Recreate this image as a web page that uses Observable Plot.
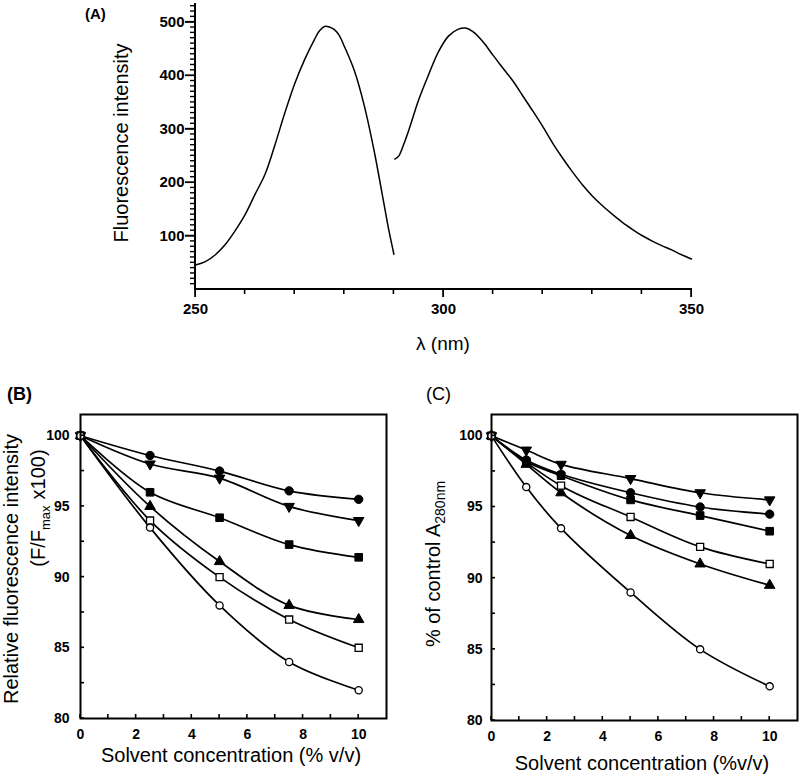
<!DOCTYPE html>
<html><head><meta charset="utf-8">
<script src="https://cdn.jsdelivr.net/npm/d3@7"></script>
<script src="https://cdn.jsdelivr.net/npm/@observablehq/plot@0.6"></script>
<style>
body{margin:0;background:#fff;}
#fig{width:800px;height:776px;background:#fff;}
#row{display:flex;width:800px;}
</style></head><body><div id="fig"><div id="top"></div><div id="row"></div></div>
<script>
// ---------- Panel A: spectra ----------
const exWavelength = [250, 252, 254, 256, 258, 260, 262, 264, 266, 268, 270, 272, 274, 275, 276, 277, 278, 279, 280, 282, 284, 286, 288, 289, 290];
const exIntensity  = [46, 52, 65, 84, 110, 140, 178, 215, 270, 330, 385, 430, 468, 484, 492, 491, 486, 475, 455, 410, 345, 260, 160, 110, 66];
const emWavelength = [290.2, 291, 292, 293, 295, 297, 299, 301, 303, 304.5, 306, 308, 310, 312, 314, 316, 318, 320, 322, 324, 326, 328, 330, 332, 334, 336, 338, 340, 342, 344, 346, 348, 350];
const emIntensity  = [244, 250, 272, 298, 355, 402, 445, 474, 487, 489, 482, 463, 438, 414, 390, 362, 334, 305, 274, 246, 220, 196, 175, 157, 141, 126, 113, 101, 91, 82, 74, 65, 57];
const aXTickLabels = [250, 300, 350];
const aXMinorTicks = [260, 270, 280, 290, 310, 320, 330, 340];
const aYTickLabels = [100, 200, 300, 400, 500];

// ---------- Panel B: relative fluorescence ----------
const bConc = [0, 2.5, 5, 7.5, 10];
const bFilledCircle   = [100, 98.6, 97.5, 96.1, 95.5];
const bFilledDown     = [100, 98.0, 97.0, 95.0, 94.0];
const bFilledSquare   = [100, 96.0, 94.2, 92.3, 91.4];
const bFilledUp       = [100, 95.0, 91.1, 88.0, 87.0];
const bOpenSquare     = [100, 94.0, 90.0, 87.0, 85.0];
const bOpenCircle     = [100, 93.5, 88.0, 84.0, 82.0];

// ---------- Panel C: % of control A280 ----------
const cConc = [0, 1.25, 2.5, 5, 7.5, 10];
const cFilledDown     = [100, 99.0, 98.0, 97.0, 96.0, 95.5];
const cFilledCircle   = [100, 98.3, 97.3, 96.0, 95.0, 94.5];
const cFilledSquare   = [100, 98.2, 97.2, 95.5, 94.4, 93.3];
const cFilledUp       = [100, 98.0, 96.0, 93.0, 91.0, 89.5];
const cOpenSquareConc = [0, 2.5, 5, 7.5, 10];
const cOpenSquare     = [100, 96.5, 94.3, 92.2, 91.0];
const cOpenCircle     = [100, 96.4, 93.5, 89.0, 85.0, 82.4];

const bcXTickLabels = [0, 2, 4, 6, 8, 10];
const bcYTickLabels = [80, 85, 90, 95, 100];

// marker styles
const markerStyle = {
  filledCircle: {symbol: "circle",   fill: "black", rotate: 0,   r: 4.2},
  filledDown:   {symbol: "triangle", fill: "black", rotate: 180, r: 3.9},
  filledSquare: {symbol: "square",   fill: "black", rotate: 0,   r: 4.3},
  filledUp:     {symbol: "triangle", fill: "black", rotate: 0,   r: 3.9},
  openSquare:   {symbol: "square",   fill: "white", rotate: 0,   r: 4.0},
  openCircle:   {symbol: "circle",   fill: "white", rotate: 0,   r: 3.6}
};

const rows = (series, xs, ys) => xs.map((x, i) => ({series, x, y: ys[i]}));
const bSeries = [
  ["filledCircle", bConc, bFilledCircle], ["filledDown", bConc, bFilledDown],
  ["filledSquare", bConc, bFilledSquare], ["filledUp", bConc, bFilledUp],
  ["openSquare", bConc, bOpenSquare], ["openCircle", bConc, bOpenCircle]
];
const cSeries = [
  ["filledDown", cConc, cFilledDown], ["filledCircle", cConc, cFilledCircle],
  ["filledSquare", cConc, cFilledSquare], ["filledUp", cConc, cFilledUp],
  ["openSquare", cOpenSquareConc, cOpenSquare], ["openCircle", cConc, cOpenCircle]
];

const font = "'Liberation Sans', Arial, Helvetica, sans-serif";

// ---- Panel A ----
const exRows = rows("ex", exWavelength, exIntensity);
const emRows = rows("em", emWavelength, emIntensity);
const plotA = Plot.plot({
  width: 800, height: 360,
  marginLeft: 195, marginRight: 109, marginTop: 3, marginBottom: 71,
  x: {domain: [250, 350]}, y: {domain: [0, 535]},
  style: {fontFamily: font, fontSize: "15px", fontWeight: "bold", color: "black", background: "white", overflow: "visible"},
  marks: [
    Plot.axisX({ticks: aXTickLabels, tickSize: 8, tickPadding: 6, label: null}),
    Plot.axisY({ticks: aYTickLabels, tickSize: 10, tickPadding: 1, label: null}),
    Plot.line(exRows, {x: "x", y: "y", curve: "catmull-rom", stroke: "black", strokeWidth: 1.5}),
    Plot.line(emRows, {x: "x", y: "y", curve: "catmull-rom", stroke: "black", strokeWidth: 1.5})
  ]
});
document.getElementById("top").appendChild(plotA);

function panel(seriesList, opts) {
  const data = seriesList.flatMap(([s, xs, ys]) => rows(s, xs, ys));
  const dots = seriesList.map(([s]) => {
    const st = markerStyle[s];
    return Plot.dot(data.filter(d => d.series === s), {
      x: "x", y: "y", symbol: st.symbol, fill: st.fill, stroke: "black",
      strokeWidth: st.fill === "white" ? 1.3 : 1, r: st.r, rotate: st.rotate
    });
  });
  return Plot.plot({
    width: 400, height: 416,
    marginLeft: opts.ml, marginRight: opts.mr, marginTop: 54, marginBottom: opts.mb,
    x: {domain: [0, 11]}, y: {domain: [80, 101.5]},
    style: {fontFamily: font, fontSize: "14px", fontWeight: "bold", color: "black", background: "white", overflow: "visible"},
    marks: [
      Plot.axisX({ticks: bcXTickLabels, tickSize: 0, tickPadding: 11, label: null}),
      Plot.axisY({ticks: bcYTickLabels, tickSize: 0, tickPadding: opts.yp, label: null}),
      Plot.line(data, {x: "x", y: "y", z: "series", curve: "catmull-rom", stroke: "black", strokeWidth: 1.7}),
      ...dots,
      Plot.frame({stroke: "black", strokeWidth: 2})
    ]
  });
}
const plotB = panel(bSeries, {ml: 80, mr: 14, mb: 58, yp: 11});
const plotC = panel(cSeries, {ml: 91, mr: 3, mb: 56, yp: 9});
document.getElementById("row").appendChild(plotB);
document.getElementById("row").appendChild(plotC);

// ---- axis lines and tick marks as filled bars, positioned with each plot's own scales ----
function bars(svg, list) {
  const g = d3.select(svg).append("g").attr("fill", "black").attr("stroke", "none");
  for (const [x, y, w, h] of list) {
    g.append("rect").attr("x", Math.min(x, x + w)).attr("y", Math.min(y, y + h))
      .attr("width", Math.abs(w)).attr("height", Math.abs(h));
  }
}
{
  const sx = plotA.scale("x").apply, sy = plotA.scale("y").apply;
  const x0 = sx(250), x1 = sx(350), y0 = sy(0), yTop = sy(535);
  const list = [
    [x0 - 1, yTop, 2, y0 - yTop + 1],        // y axis line
    [x0 - 1, y0 - 1, x1 - x0 + 2, 2]         // x axis line
  ];
  aXTickLabels.forEach(v => list.push([sx(v) - 0.8, y0, 1.6, 8]));
  aXMinorTicks.forEach(v => list.push([sx(v) - 0.8, y0, 1.6, 5]));
  aYTickLabels.forEach(v => list.push([x0, sy(v) - 0.8, -10, 1.6]));
  d3.range(10, 535, 10).filter(v => v % 100 !== 0).forEach(v => list.push([x0, sy(v) - 0.7, -5, 1.4]));
  bars(plotA, list);
}
for (const pl of [plotB, plotC]) {
  const sx = pl.scale("x").apply, sy = pl.scale("y").apply;
  const list = [];
  d3.range(0, 11, 1).forEach(v => list.push([sx(v) - 0.8, sy(80), 1.6, -4]));
  d3.range(80, 101, 2.5).forEach(v => list.push([sx(0), sy(v) - 0.8, 4, 1.6]));
  bars(pl, list);
}

// ---- text labels, added into each panel's own SVG ----
function txt(svg, {x, y, rot, size, bold, anchor}) {
  const t = d3.select(svg).append("text")
    .attr("font-family", font).attr("font-size", size)
    .attr("font-weight", bold ? "bold" : "normal")
    .attr("text-anchor", anchor || "middle").attr("fill", "black");
  if (rot) t.attr("transform", `translate(${x},${y}) rotate(-90)`);
  else t.attr("x", x).attr("y", y);
  return t;
}
txt(plotA, {x: 85, y: 19, size: 15, bold: true, anchor: "start"}).text("(A)");
txt(plotA, {x: 127.5, y: 143, rot: true, size: 20}).text("Fluorescence intensity");
txt(plotA, {x: 443, y: 350, size: 19}).text("λ (nm)");

txt(plotB, {x: 7, y: 40, size: 18, bold: true, anchor: "start"}).text("(B)");
txt(plotB, {x: 17.5, y: 209, rot: true, size: 20}).text("Relative fluorescence intensity");
const l2 = txt(plotB, {x: 45, y: 148, rot: true, size: 20});
l2.append("tspan").text("(F/F");
l2.append("tspan").attr("font-size", 13).attr("dy", 5).text("max");
l2.append("tspan").attr("dy", -5).attr("dx", 6).text("x100)");
txt(plotB, {x: 231, y: 402, size: 20}).text("Solvent concentration (% v/v)");

txt(plotC, {x: 26, y: 40, size: 18, anchor: "start"}).text("(C)");
const cl = txt(plotC, {x: 39.5, y: 204, rot: true, size: 20});
cl.append("tspan").text("% of control A");
cl.append("tspan").attr("font-size", 14).attr("dy", 5).text("280nm");
txt(plotC, {x: 242, y: 410, size: 20}).text("Solvent concentration (%v/v)");
</script></body></html>
